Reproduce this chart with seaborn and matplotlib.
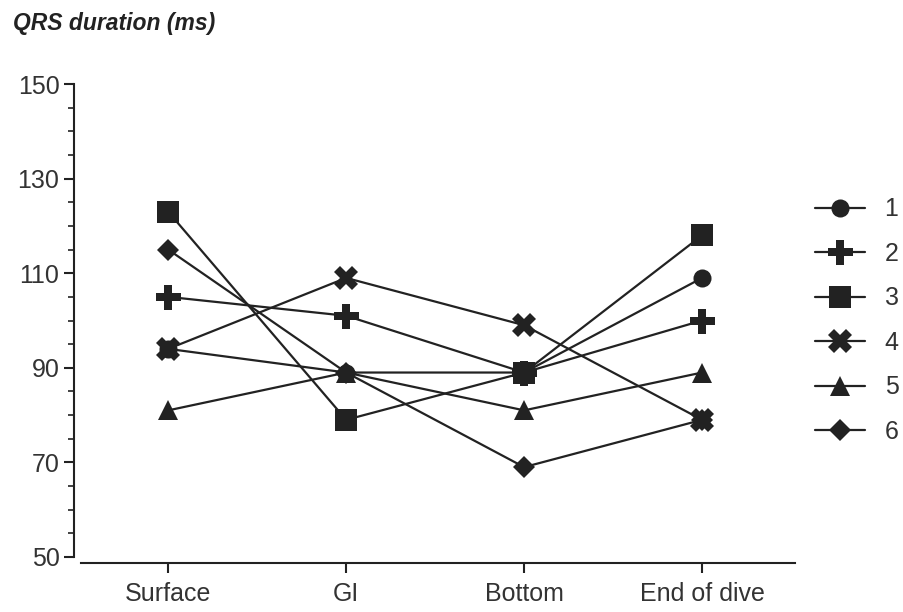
import pandas as pd
import matplotlib
matplotlib.use("Agg")
import matplotlib.pyplot as plt
import seaborn as sns

# dive phases on the x axis
phases = ["Surface", "GI", "Bottom", "End of dive"]

# QRS duration (ms) per subject
subj_1 = [94, 89, 89, 109]
subj_2 = [105, 101, 89, 100]
subj_3 = [123, 79, 89, 118]
subj_4 = [94, 109, 99, 79]
subj_5 = [81, 89, 81, 89]
subj_6 = [115, 89, 69, 79]

subjects = ["1", "2", "3", "4", "5", "6"]
series = [subj_1, subj_2, subj_3, subj_4, subj_5, subj_6]

rows = []
for name, vals in zip(subjects, series):
    for i, (ph, v) in enumerate(zip(phases, vals)):
        rows.append({"subject": name, "phase": ph, "pos": i, "qrs": v})
df = pd.DataFrame(rows)

sns.set_style("ticks")
plt.rcParams["font.family"] = ["Liberation Sans", "DejaVu Sans"]

fig = plt.figure(figsize=(9.04, 6.12), dpi=100)
ax = fig.add_axes([0.0896, 0.0899, 0.7894, 0.7728])

ink = "#222222"
markers = {"1": "o", "2": "P", "3": "s", "4": "X", "5": "^", "6": "D"}
sizes = {"1": 13, "2": 18, "3": 16, "4": 17, "5": 15, "6": 11}

sns.lineplot(data=df, x="pos", y="qrs", hue="subject", style="subject",
             markers=markers, dashes=False, palette=[ink] * 6,
             linewidth=1.6, markersize=14, markeredgewidth=0, ax=ax,
             legend=True, sort=False)

# tune marker sizes per subject
for line, name in zip(ax.get_lines(), subjects):
    line.set_markersize(sizes[name])

ax.set_xlim(-0.49, 3.52)
ax.set_ylim(50, 150)
ax.set_xticks(range(len(phases)))
ax.set_xticklabels(phases)
ax.set_yticks([50, 70, 90, 110, 130, 150])
ax.set_yticks(range(50, 151, 5), minor=True)
ax.set_xlabel("")
ax.set_ylabel("")

for s in ["top", "right"]:
    ax.spines[s].set_visible(False)
ax.spines["left"].set_position(("outward", 5))
ax.spines["bottom"].set_position(("outward", 4))
for s in ["left", "bottom"]:
    ax.spines[s].set_linewidth(1.5)
    ax.spines[s].set_color(ink)

ax.tick_params(axis="both", which="major", labelsize=18, colors=ink,
               labelcolor="#333333", width=1.5, length=7)
ax.tick_params(axis="y", which="minor", width=1.2, length=4, colors=ink)
ax.tick_params(axis="x", pad=7)

# legend to the right of the axes
handles, labels = ax.get_legend_handles_labels()
for h, name in zip(handles, labels):
    h.set_markersize(sizes.get(name, 14))
ax.legend(handles, labels, loc="center left", bbox_to_anchor=(1.028, 0.50),
          frameon=False, fontsize=18, handlelength=2.0, labelspacing=0.82,
          handletextpad=0.8, borderpad=0, borderaxespad=0,
          labelcolor="#333333")

fig.text(0.014, 0.951, "QRS duration (ms)", fontsize=16.5, fontweight="bold",
         fontstyle="italic", color="#222222")

fig.savefig("out.png", dpi=100, facecolor="white")
